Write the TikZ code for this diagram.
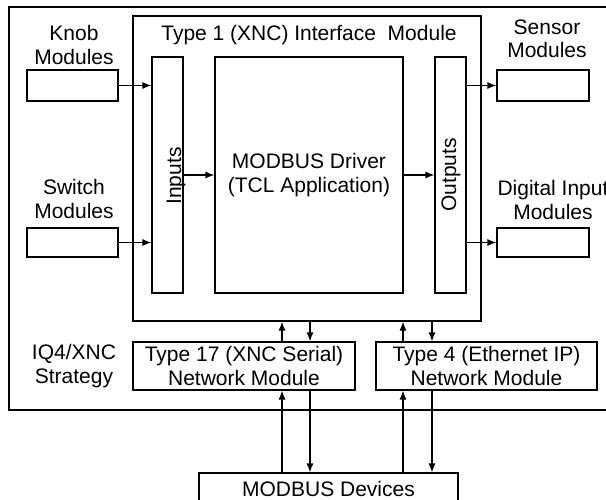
\documentclass[tikz,border=0pt]{standalone}
\usepackage{fontspec}
\setmainfont{Liberation Sans}
\usetikzlibrary{arrows.meta}
\begin{document}
\begin{tikzpicture}[x=1pt, y=-1pt, line width=1.2pt,
    every node/.style={font=\fontsize{21}{23.5}\selectfont, align=center, inner sep=0pt},
    box/.style={draw, rectangle},
    arr/.style={-{Latex[length=9pt,width=7pt]}}]
    \clip (0,0) rectangle (606,500);
    % frames
    \node[box, minimum width=631, minimum height=403] (strategy) at (324.5,208.5) {};
    \node[box, minimum width=348, minimum height=305] (iface) at (307,168.5) {};
    \node (title) at (309,35) {Type 1 (XNC) Interface\ \ Module};
    \node[box, minimum width=31, minimum height=236] (inputs) at (167.5,175) {};
    \node[rotate=90] (inlbl) at (176,176) {Inputs};
    \node[box, minimum width=188, minimum height=236] (driver) at (309,175) {MODBUS Driver\\(TCL Application)};
    \node[box, minimum width=31, minimum height=236] (outputs) at (450.5,175) {};
    \node[rotate=90] (outlbl) at (451,175) {Outputs};
    % field modules
    \node[box, minimum width=91, minimum height=31] (knob) at (72.5,85.5) {};
    \node (knoblbl) at (74,45) {Knob\\Modules};
    \node[box, minimum width=91, minimum height=29] (switch) at (72.5,242.5) {};
    \node (switchlbl) at (74,199) {Switch\\Modules};
    \node[box, minimum width=92, minimum height=31] (sensor) at (543,85.5) {};
    \node (sensorlbl) at (547,39) {Sensor\\Modules};
    \node[box, minimum width=92, minimum height=29] (digin) at (543,242.5) {};
    \node (diginlbl) at (553,200) {Digital Input\\Modules};
    % network modules
    \node (stratlbl) at (74,366) {IQ4/XNC\\Strategy};
    \node[box, minimum width=222, minimum height=48] (t17) at (244,366) {Type 17 (XNC Serial)\\Network Module};
    \node[box, minimum width=221, minimum height=48] (t4) at (486.5,366) {Type 4 (Ethernet IP)\\Network Module};
    \node[box, minimum width=259, minimum height=32] (devices) at (328.5,489) {MODBUS Devices};
    % signal flow
    \draw[arr] (knob.east) -- (knob.east -| inputs.west);
    \draw[arr] (switch.east) -- (switch.east -| inputs.west);
    \draw[arr] (inputs.east) -- (driver.west);
    \draw[arr] (driver.east) -- (outputs.west);
    \draw[arr] (outputs.east |- sensor.west) -- (sensor.west);
    \draw[arr] (outputs.east |- digin.west) -- (digin.west);
    \draw[arr] ([xshift=38]t17.north) -- ([xshift=38]t17.north |- iface.south);
    \draw[arr] ([xshift=66]t17.north |- iface.south) -- ([xshift=66]t17.north);
    \draw[arr] ([xshift=-83.5]t4.north) -- ([xshift=-83.5]t4.north |- iface.south);
    \draw[arr] ([xshift=-54.5]t4.north |- iface.south) -- ([xshift=-54.5]t4.north);
    \draw[arr] ([xshift=38]t17.south |- devices.north) -- ([xshift=38]t17.south);
    \draw[arr] ([xshift=66]t17.south) -- ([xshift=66]t17.south |- devices.north);
    \draw[arr] ([xshift=-83.5]t4.south |- devices.north) -- ([xshift=-83.5]t4.south);
    \draw[arr] ([xshift=-54.5]t4.south) -- ([xshift=-54.5]t4.south |- devices.north);
\end{tikzpicture}
\end{document}
